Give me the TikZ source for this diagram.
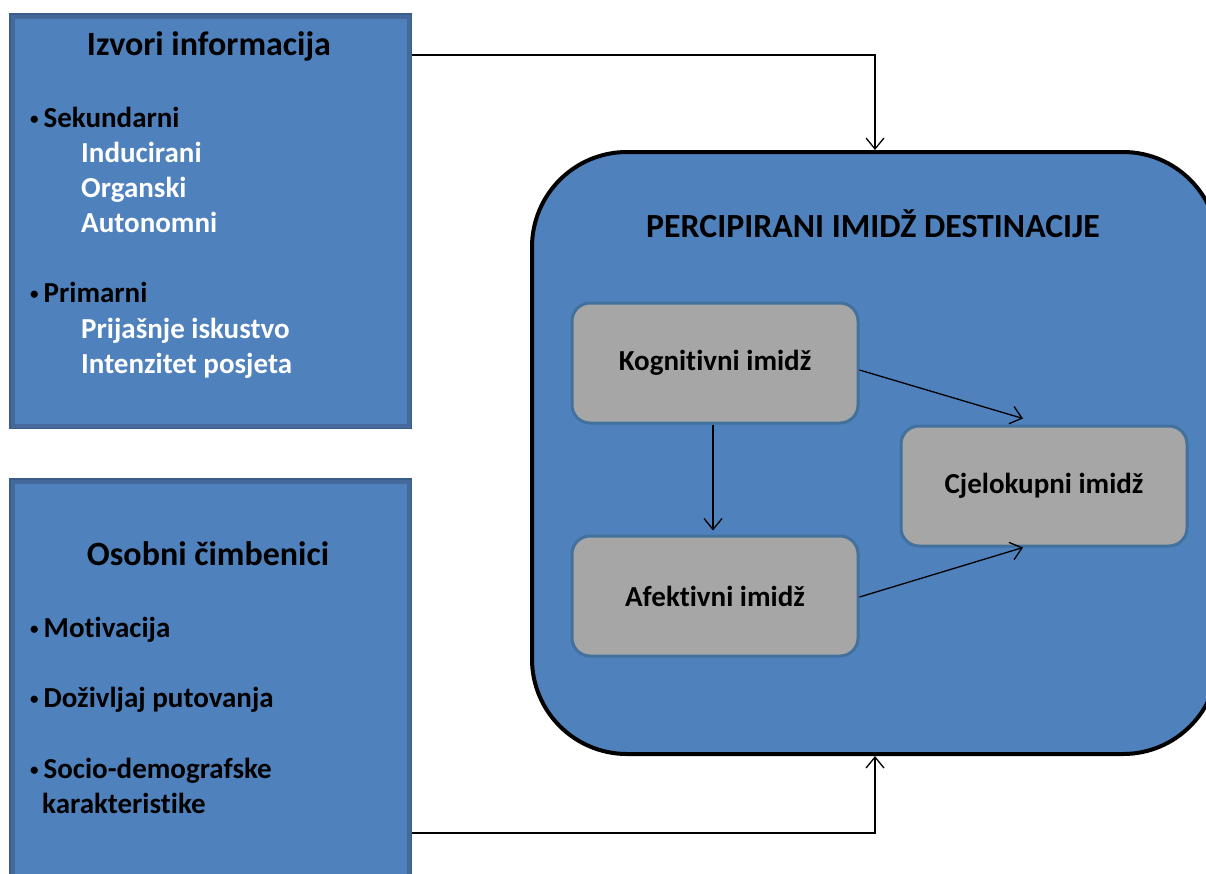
\documentclass[tikz,border=0pt]{standalone}
\usepackage{fontspec}
\setmainfont{Carlito}[Ligatures=NoCommon]
\usetikzlibrary{arrows.meta}
\definecolor{boxblue}{HTML}{4F81BD}
\definecolor{edgeblue}{HTML}{385D8A}
\definecolor{inneredge}{HTML}{44699A}
\definecolor{greyfill}{HTML}{A6A6A6}
\definecolor{greyedge}{HTML}{41719C}
\newcommand{\bul}{\raisebox{3pt}{\fontsize{17}{17}\selectfont•}\hspace{5pt}}
\begin{document}
\begin{tikzpicture}[x=1pt,y=-1pt,
  panel/.style={draw=edgeblue, line width=3pt, fill=boxblue, inner sep=0pt, anchor=north west},
  gbox/.style={draw=greyedge, line width=3pt, fill=greyfill, rounded corners=18pt,
    minimum width=286pt, minimum height=120pt, inner sep=0pt,
    font=\fontsize{29}{34}\selectfont\bfseries},
  headtxt/.style={font=\fontsize{34}{40}\selectfont\bfseries, anchor=base, inner sep=0pt},
  itemtxt/.style={font=\fontsize{29}{34}\selectfont\bfseries, anchor=base west, inner sep=0pt},
  subtxt/.style={itemtxt, text=white},
  conn/.style={draw=black, line width=1.3pt, -{Straight Barb[length=11pt,width=18pt,line width=1.3pt]}}]
\useasboundingbox (0,0) rectangle (1206,873);
\clip (0,0) rectangle (1206,873);

% left panels
\node[panel, minimum width=400pt, minimum height=413pt] (src) at (9,13) {};
\draw[inneredge, line width=4pt] ([shift={(3.5pt,-3.5pt)}]src.north west) rectangle ([shift={(-3.5pt,3.5pt)}]src.south east);
\node[panel, minimum width=400pt, minimum height=402pt] (pers) at (9,478) {};
\draw[inneredge, line width=4pt] ([shift={(3.5pt,-3.5pt)}]pers.north west) rectangle ([shift={(-3.5pt,3.5pt)}]pers.south east);

% information sources
\node[headtxt] (t1) at (209,55) {Izvori informacija};
\node[itemtxt] (s1) at (30,127) {\bul Sekundarni};
\node[subtxt] (s1a) at (81,162) {Inducirani};
\node[subtxt] (s1b) at (81,197) {Organski};
\node[subtxt] (s1c) at (81,232) {Autonomni};
\node[itemtxt] (s2) at (30,302) {\bul Primarni};
\node[subtxt] (s2a) at (81,338) {Prijašnje iskustvo};
\node[subtxt] (s2b) at (81,373) {Intenzitet posjeta};

% personal factors
\node[headtxt] (t2) at (208,565) {Osobni čimbenici};
\node[itemtxt] (p1) at (30,637) {\bul Motivacija};
\node[itemtxt] (p2) at (30,707) {\bul Doživljaj putovanja};
\node[itemtxt] (p3) at (30,778) {\bul Socio-demografske};
\node[itemtxt] (p3b) at (42,813) {karakteristike};

% perceived image
\node[draw=black, line width=4pt, fill=boxblue, rounded corners=95pt,
  minimum width=686pt, minimum height=602pt, inner sep=0pt, anchor=north west] (img) at (530,150) {};
\node[headtxt, font=\fontsize{33.8}{40}\selectfont\bfseries] (t3) at (873,237) {PERCIPIRANI IMIDŽ DESTINACIJE};

\node[gbox] (kog) at (715,363) {Kognitivni imidž};
\node[gbox] (afe) at (715,596) {Afektivni imidž};
\node[gbox] (cje) at (1044,486) {Cjelokupni imidž};

% connectors
\draw[conn] ([yshift=-42pt]src.north east) -| (img.north);
\draw[conn] ([yshift=-355pt]pers.north east) -| (img.south);
\draw[conn] ([yshift=-7pt]kog.east) -- ([xshift=-21pt,yshift=6pt]cje.north);
\draw[conn] ([xshift=-2pt]kog.south) -- ([xshift=-2pt,yshift=4pt]afe.north);
\draw[conn] ([yshift=-1pt]afe.east) -- ([xshift=-21pt]cje.south);
\end{tikzpicture}
\end{document}
